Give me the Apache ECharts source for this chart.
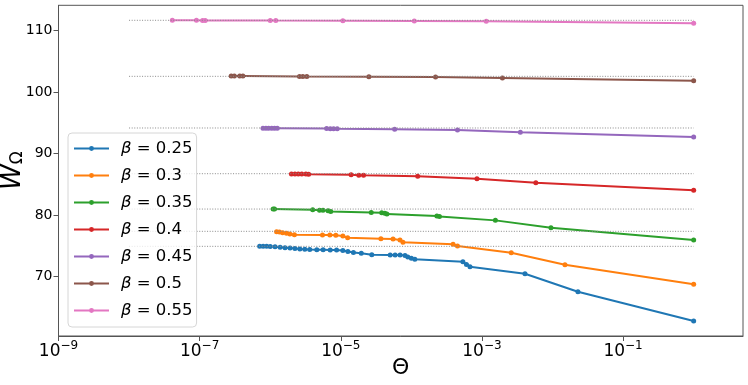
<!DOCTYPE html>
<html>
<head>
<meta charset="utf-8">
<script src="https://cdn.jsdelivr.net/npm/echarts@6/dist/echarts.min.js"></script>
<style>
  html, body { margin: 0; padding: 0; background: #fff; }
  #chart { width: 748px; height: 385px; }
</style>
</head>
<body>
<div id="chart"></div>
<script>
var betas = ['0.25', '0.3', '0.35', '0.4', '0.45', '0.5', '0.55'];
var colors = ['#1f77b4', '#ff7f0e', '#2ca02c', '#d62728', '#9467bd', '#8c564b', '#e377c2'];

var thetaB025 = [7.08e-7, 7.94e-7, 8.91e-7, 1.0e-6, 1.17e-6, 1.38e-6, 1.62e-6, 1.91e-6, 2.24e-6, 2.63e-6,
  3.09e-6, 3.63e-6, 4.57e-6, 5.62e-6, 7.08e-6, 8.71e-6, 1.07e-5, 1.26e-5, 1.51e-5, 1.95e-5,
  2.75e-5, 5.01e-5, 5.89e-5, 6.92e-5, 8.13e-5, 8.91e-5, 1.0e-4, 1.12e-4, 5.37e-4, 6.03e-4,
  6.76e-4, 4.07e-3, 2.29e-2, 1];
var wB025 = [74.96, 74.96, 74.95, 74.93, 74.88, 74.80, 74.72, 74.65, 74.58, 74.50,
  74.45, 74.42, 74.40, 74.38, 74.35, 74.33, 74.25, 74.10, 73.95, 73.80,
  73.58, 73.55, 73.55, 73.53, 73.45, 73.2, 73.0, 72.85, 72.44, 72.0,
  71.63, 70.49, 67.56, 62.8];

var thetaB030 = [1.23e-6, 1.35e-6, 1.5e-6, 1.7e-6, 1.9e-6, 2.2e-6, 5.5e-6, 7.0e-6, 8.5e-6, 1.07e-5,
  1.25e-5, 3.7e-5, 5.5e-5, 6.9e-5, 7.6e-5, 3.9e-4, 4.5e-4, 2.6e-3, 1.5e-2, 1];
var wB030 = [77.32, 77.25, 77.15, 77.05, 76.95, 76.82, 76.80, 76.78, 76.74, 76.62,
  76.34, 76.18, 76.12, 75.97, 75.6, 75.27, 74.99, 73.9, 71.95, 68.76];

var thetaB035 = [1.1e-6, 1.15e-6, 4.0e-6, 5.0e-6, 5.6e-6, 6.6e-6, 7.2e-6, 2.7e-5, 3.8e-5, 4.2e-5,
  4.5e-5, 2.3e-4, 2.5e-4, 1.55e-3, 9.5e-3, 1];
var wB035 = [81.0, 80.99, 80.87, 80.82, 80.79, 80.74, 80.60, 80.46, 80.38, 80.30,
  80.18, 79.88, 79.80, 79.16, 77.97, 75.97];

var thetaB040 = [2.0e-6, 2.24e-6, 2.5e-6, 2.8e-6, 3.2e-6, 3.5e-6, 1.4e-5, 1.8e-5, 2.1e-5, 1.23e-4,
  8.5e-4, 5.8e-3, 1];
var wB040 = [86.72, 86.71, 86.70, 86.69, 86.68, 86.66, 86.59, 86.51, 86.48, 86.33,
  85.94, 85.29, 84.05];

var thetaB045 = [7.9e-7, 8.7e-7, 9.5e-7, 1.05e-6, 1.15e-6, 1.26e-6, 6.3e-6, 7.1e-6, 7.9e-6, 8.9e-6,
  5.8e-5, 4.5e-4, 3.5e-3, 1];
var wB045 = [94.14, 94.14, 94.13, 94.13, 94.12, 94.12, 94.08, 94.07, 94.07, 94.06,
  93.96, 93.85, 93.48, 92.72];

var thetaB050 = [2.8e-7, 3.1e-7, 3.7e-7, 4.1e-7, 2.6e-6, 2.9e-6, 3.3e-6, 2.5e-5, 2.2e-4, 1.95e-3, 1];
var wB050 = [102.63, 102.63, 102.62, 102.62, 102.57, 102.56, 102.55, 102.52, 102.46, 102.31, 101.87];

var thetaB055 = [4.1e-8, 9.0e-8, 1.1e-7, 1.2e-7, 1.0e-6, 1.2e-6, 1.07e-5, 1.1e-4, 1.15e-3, 1];
var wB055 = [111.69, 111.68, 111.67, 111.67, 111.65, 111.64, 111.61, 111.57, 111.52, 111.2];

// dotted guide lines at the starting level of each curve
var refTheta = [1e-8, 1];
var refLevels = [74.94, 77.38, 81.0, 86.75, 94.18, 102.58, 111.69];

var xTicks = [1e-9, 1e-7, 1e-5, 1e-3, 1e-1];
var yTicks = [70, 80, 90, 100, 110];

var thetas = [thetaB025, thetaB030, thetaB035, thetaB040, thetaB045, thetaB050, thetaB055];
var ws = [wB025, wB030, wB035, wB040, wB045, wB050, wB055];

function pairs(xs, ys) {
  return xs.map(function(x, i) { return [x, ys[i]]; });
}

var FONT = 'DejaVu Sans';
var series = [];
var names = [];

betas.forEach(function(b, i) {
  var name = 'β = ' + b;
  names.push(name);
  series.push({
    name: name,
    type: 'line',
    data: pairs(thetas[i], ws[i]),
    color: colors[i],
    symbol: 'circle',
    symbolSize: 5,
    showSymbol: true,
    lineStyle: { width: 2 },
    emphasis: { disabled: true },
    z: 2,
  });
});

refLevels.forEach(function(lv) {
  series.push({
    type: 'line',
    data: pairs(refTheta, [lv, lv]),
    symbol: 'none',
    lineStyle: { color: '#8a8a8a', width: 1, type: [1, 1.6] },
    emphasis: { disabled: true },
    silent: true,
    z: 3,
  });
});

var chart = echarts.init(document.getElementById('chart'));
var options = {
  animation: false,
  grid: {
    left: 58.5,
    right: 5,
    top: 5.3,
    bottom: 49,
    containLabel: false,
    outerBoundsMode: 'none',
    show: true,
    borderColor: '#555',
    borderWidth: 1,
  },

  legend: {
    data: names,
    orient: 'vertical',
    left: 68,
    top: 133,
    padding: [7, 4, 8, 5],
    itemWidth: 35,
    itemHeight: 6,
    itemGap: 10,
    backgroundColor: 'rgba(255,255,255,0.8)',
    borderColor: '#d6d6d6',
    borderWidth: 1,
    borderRadius: 4,
    formatter: function(n) {
      return '{g|β}{t|' + n.slice(1) + '}';
    },
    textStyle: {
      rich: {
        g: { fontFamily: FONT, fontStyle: 'italic', fontSize: 16.5, color: '#000', lineHeight: 17, padding: [0, 0, 0, 7] },
        t: { fontFamily: FONT, fontSize: 16.5, color: '#000', lineHeight: 17 },
      },
    },
  },

  xAxis: {
    type: 'log',
    logBase: 10,
    min: 1e-9,
    max: 5,
    splitNumber: 10,
    name: 'Θ',
    nameLocation: 'middle',
    nameGap: 21,
    nameMoveOverlap: false,
    nameTextStyle: { fontFamily: FONT, fontSize: 22, color: '#000' },
    splitLine: { show: false },
    axisLine: { lineStyle: { color: '#555', width: 1 } },
    axisTick: { length: 5, customValues: xTicks, lineStyle: { color: '#555' } },
    axisLabel: {
      customValues: xTicks,
      margin: 4,
      formatter: function(v) {
        var e = Math.round(Math.log10(v));
        return '{b|10}{s|' + (e < 0 ? '\u2212' : '') + Math.abs(e) + '}';
      },
      rich: {
        b: { fontFamily: FONT, fontSize: 17, color: '#000' },
        s: { fontFamily: FONT, fontSize: 12, color: '#000', padding: [0, 0, 12, 0] },
      },
    },
  },

  yAxis: {
    type: 'value',
    min: 60.36,
    max: 114.13,
    name: '{w|W}{s|Ω}',
    nameLocation: 'middle',
    nameGap: 32,
    nameMoveOverlap: false,
    nameTextStyle: {
      rich: {
        w: { fontFamily: FONT, fontStyle: 'italic', fontSize: 26, color: '#000' },
        s: { fontFamily: FONT, fontSize: 17, color: '#000', padding: [10, 0, 0, 0] },
      },
    },
    splitLine: { show: false },
    axisLine: { show: true, lineStyle: { color: '#555', width: 1 } },
    axisTick: { show: true, length: 5, customValues: yTicks, lineStyle: { color: '#555' } },
    axisLabel: {
      customValues: yTicks,
      margin: 6,
      fontFamily: FONT,
      fontSize: 14,
      color: '#000',
    },
  },

  series: series,
};
chart.setOption(options);
</script>
</body>
</html>
